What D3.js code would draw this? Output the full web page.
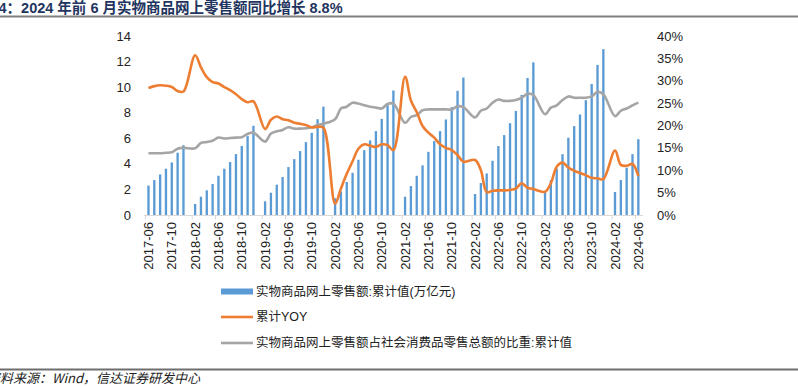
<!DOCTYPE html>
<html lang="zh">
<head>
    <meta charset="UTF-8">
    <title>实物商品网上零售额</title>
    <script src="https://d3js.org/d3.v7.min.js"></script>
    <style>
        body { margin: 0; background: #fff; }
        svg { display: block; }
        text { font-family: "Liberation Sans", "Noto Sans CJK SC", sans-serif; }
        .cjk { font-family: "Noto Sans CJK SC", sans-serif; }
    </style>
</head>
<body>
<div id="chart"></div>
<script>
    // months on the category axis (Jan has no value: Jan-Feb published together)
    let months = [
        '2017-06', '2017-07', '2017-08', '2017-09', '2017-10', '2017-11', '2017-12',
        '2018-01', '2018-02', '2018-03', '2018-04', '2018-05', '2018-06', '2018-07', '2018-08', '2018-09', '2018-10', '2018-11', '2018-12',
        '2019-01', '2019-02', '2019-03', '2019-04', '2019-05', '2019-06', '2019-07', '2019-08', '2019-09', '2019-10', '2019-11', '2019-12',
        '2020-01', '2020-02', '2020-03', '2020-04', '2020-05', '2020-06', '2020-07', '2020-08', '2020-09', '2020-10', '2020-11', '2020-12',
        '2021-01', '2021-02', '2021-03', '2021-04', '2021-05', '2021-06', '2021-07', '2021-08', '2021-09', '2021-10', '2021-11', '2021-12',
        '2022-01', '2022-02', '2022-03', '2022-04', '2022-05', '2022-06', '2022-07', '2022-08', '2022-09', '2022-10', '2022-11', '2022-12',
        '2023-01', '2023-02', '2023-03', '2023-04', '2023-05', '2023-06', '2023-07', '2023-08', '2023-09', '2023-10', '2023-11', '2023-12',
        '2024-01', '2024-02', '2024-03', '2024-04', '2024-05', '2024-06'
    ];

    // 实物商品网上零售额:累计值(万亿元)
    let sales = [
        2.3, 2.73, 3.17, 3.62, 4.11, 4.87, 5.46,
        null, 0.86, 1.43, 1.93, 2.42, 3.07, 3.62, 4.14, 4.76, 5.39, 6.17, 6.98,
        null, 1.07, 1.74, 2.37, 2.97, 3.75, 4.37, 5.0, 5.7, 6.43, 7.49, 8.48,
        null, 1.31, 1.84, 2.58, 3.3, 4.32, 5.07, 5.84, 6.56, 7.52, 8.59, 9.74,
        null, 1.43, 2.26, 3.07, 3.88, 4.94, 5.78, 6.56, 7.47, 8.43, 9.71, 10.75,
        null, 1.64, 2.5, 3.25, 4.24, 5.39, 6.25, 7.18, 8.14, 9.39, 10.72, 11.94,
        null, 1.87, 2.73, 3.64, 4.76, 6.04, 6.95, 7.86, 8.98, 10.25, 11.74, 12.97,
        null, 1.8, 2.73, 3.7, 4.76, 5.93
    ];

    // 累计YOY (%)
    let yoy = [
        28.4, 28.8, 29.0, 28.9, 28.6, 27.7, 27.6,
        null, 35.7, 33.0, 30.8, 29.7, 29.4, 28.6, 27.9, 27.0, 25.9, 25.2, 25.4,
        null, 19.2, 21.3, 22.0, 21.4, 21.2, 20.6, 20.4, 20.1, 19.6, 19.7, 19.5,
        null, 2.5, 5.9, 9.2, 12.0, 14.8, 15.8, 15.5, 15.2, 15.8, 15.6, 14.5,
        null, 30.9, 25.6, 23.0, 19.9, 18.4, 17.3, 15.8, 15.0, 14.5, 13.4, 11.9,
        null, 12.3, 10.0, 5.1, 5.4, 5.5, 5.5, 5.6, 5.9, 7.1, 6.1, 5.8,
        null, 5.2, 7.1, 10.8, 11.7, 10.6, 9.9, 9.4, 8.9, 8.3, 8.2, 8.0,
        null, 14.4, 11.2, 11.0, 11.4, 8.7
    ];

    // 实物商品网上零售额占社会消费品零售总额的比重:累计值 (%)
    let share = [
        13.8, 13.8, 13.8, 13.9, 14.0, 14.8, 15.0,
        null, 14.9, 16.1, 16.3, 16.6, 17.3, 17.1, 17.2, 17.3, 17.4, 18.1, 18.4,
        null, 16.4, 18.2, 18.7, 19.0, 19.6, 19.3, 19.3, 19.4, 19.6, 20.1, 20.4,
        null, 21.4, 23.8, 24.2, 25.1, 24.9, 24.5, 24.2, 24.0, 23.8, 24.8, 24.9,
        null, 20.6, 21.9, 22.3, 23.4, 23.6, 23.6, 23.6, 23.6, 23.6, 24.3, 24.1,
        null, 21.8, 23.3, 23.8, 25.1, 25.8, 25.5, 25.5, 25.7, 26.2, 27.1, 26.8,
        null, 22.5, 24.0, 24.5, 25.7, 26.5, 26.2, 26.2, 26.2, 26.5, 27.5, 27.0,
        null, 22.1, 23.3, 23.8, 24.5, 25.1
    ];

    let leftTicks = [0, 2, 4, 6, 8, 10, 12, 14];
    let rightTicks = [0, 5, 10, 15, 20, 25, 30, 35, 40];

    let names = {
        bar: '实物商品网上零售额:累计值(万亿元)',
        yoy: '累计YOY',
        share: '实物商品网上零售额占社会消费品零售总额的比重:累计值'
    };

    let W = 798, H = 386;
    let svg = d3.select('#chart')
        .append('svg')
        .attr('width', W)
        .attr('height', H);

    // title and frame lines (left edge of title / source is cropped, as in the original)
    svg.append('text')
        .attr('x', -16)
        .attr('y', 13)
        .attr('font-size', '14.5px')
        .attr('font-weight', 'bold')
        .attr('fill', '#1f3560')
        .text('图4：2024 年前 6 月实物商品网上零售额同比增长 8.8%');

    svg.append('line')
        .attr('x1', 0).attr('x2', W)
        .attr('y1', 16.5).attr('y2', 16.5)
        .attr('stroke', '#808080')
        .attr('stroke-width', 2);

    svg.append('line')
        .attr('x1', 0).attr('x2', W)
        .attr('y1', 369.5).attr('y2', 369.5)
        .attr('stroke', '#6e6e6e')
        .attr('stroke-width', 2);

    svg.append('text')
        .attr('class', 'cjk')
        .attr('x', -13)
        .attr('y', 383)
        .attr('font-size', '13px')
        .attr('font-style', 'italic')
        .attr('fill', '#222')
        .text('资料来源：Wind，信达证券研发中心');

    // scales
    let x = d3.scaleBand()
        .domain(months)
        .range([143.8, 643])
        .padding(0.6);

    let yL = d3.scaleLinear().domain([0, 14]).range([215, 36]);
    let yR = d3.scaleLinear().domain([0, 40]).range([215, 36]);

    let cx = function (m) {
        return x(m) + x.bandwidth() / 2;
    };

    // bars
    svg.append('g')
        .selectAll('rect')
        .data(months.map(function (m, i) { return {m: m, v: sales[i]}; })
            .filter(function (d) { return d.v != null; }))
        .enter()
        .append('rect')
        .attr('x', function (d) { return x(d.m); })
        .attr('y', function (d) { return yL(d.v); })
        .attr('width', x.bandwidth())
        .attr('height', function (d) { return yL(0) - yL(d.v); })
        .attr('fill', '#5b9bd5');

    // x axis line + ticks every 4 months
    let step = x.step();
    svg.append('line')
        .attr('x1', 143.8).attr('x2', 643)
        .attr('y1', 215.5).attr('y2', 215.5)
        .attr('stroke', '#d9d9d9');

    let labelled = months.filter(function (m, i) { return i % 4 === 0; });
    svg.append('g')
        .selectAll('line')
        .data(labelled)
        .enter()
        .append('line')
        .attr('x1', function (m) { return cx(m) - step / 2; })
        .attr('x2', function (m) { return cx(m) - step / 2; })
        .attr('y1', 215.5).attr('y2', 219.5)
        .attr('stroke', '#d9d9d9');

    svg.append('g')
        .selectAll('text')
        .data(labelled)
        .enter()
        .append('text')
        .attr('transform', function (m) {
            return 'translate(' + (cx(m) + 4.5) + ',222) rotate(-90)';
        })
        .attr('text-anchor', 'end')
        .attr('font-size', '13px')
        .attr('fill', '#222')
        .text(function (m) { return m; });

    // left / right tick labels
    svg.append('g')
        .selectAll('text')
        .data(leftTicks)
        .enter()
        .append('text')
        .attr('x', 131)
        .attr('y', function (d) { return yL(d); })
        .attr('dy', '0.35em')
        .attr('text-anchor', 'end')
        .attr('font-size', '13px')
        .attr('fill', '#222')
        .text(function (d) { return d; });

    svg.append('g')
        .selectAll('text')
        .data(rightTicks)
        .enter()
        .append('text')
        .attr('x', 657)
        .attr('y', function (d) { return yR(d); })
        .attr('dy', '0.35em')
        .attr('font-size', '13px')
        .attr('fill', '#222')
        .text(function (d) { return d + '%'; });

    // smoothed lines, bridging the January gaps
    let line = d3.line()
        .x(function (d) { return cx(d.m); })
        .y(function (d) { return yR(d.v); })
        .curve(d3.curveCatmullRom.alpha(0.5));

    let pts = function (arr) {
        return months.map(function (m, i) { return {m: m, v: arr[i]}; })
            .filter(function (d) { return d.v != null; });
    };

    svg.append('path')
        .attr('d', line(pts(share)))
        .attr('fill', 'none')
        .attr('stroke', '#a5a5a5')
        .attr('stroke-width', 2.6);

    svg.append('path')
        .attr('d', line(pts(yoy)))
        .attr('fill', 'none')
        .attr('stroke', '#ed7d31')
        .attr('stroke-width', 2.6);

    // legend
    let lg = svg.append('g').attr('class', 'cjk');
    lg.append('rect')
        .attr('x', 221).attr('y', 288.5)
        .attr('width', 32).attr('height', 6)
        .attr('fill', '#5b9bd5');
    lg.append('line')
        .attr('x1', 221).attr('x2', 253)
        .attr('y1', 317).attr('y2', 317)
        .attr('stroke', '#ed7d31').attr('stroke-width', 2.6);
    lg.append('line')
        .attr('x1', 221).attr('x2', 253)
        .attr('y1', 343).attr('y2', 343)
        .attr('stroke', '#a5a5a5').attr('stroke-width', 2.6);

    [[names.bar, 291.5], [names.yoy, 317], [names.share, 343]].forEach(function (d) {
        lg.append('text')
            .attr('x', 256)
            .attr('y', d[1])
            .attr('dy', '0.35em')
            .attr('font-size', '12.5px')
            .attr('fill', '#222')
            .text(d[0]);
    });
</script>
</body>
</html>
